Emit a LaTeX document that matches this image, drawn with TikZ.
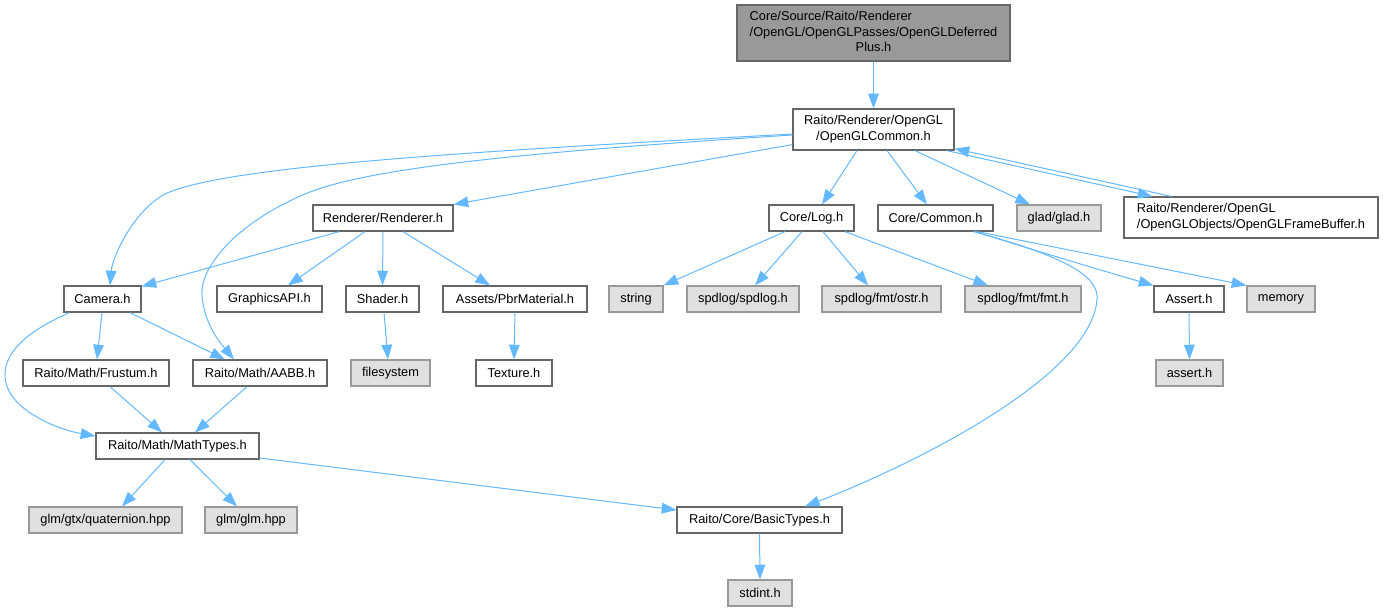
\documentclass[tikz,border=0pt]{standalone}
\usepackage{fontspec}
\setmainfont{Liberation Sans}
\usetikzlibrary{arrows.meta,calc}
\definecolor{edgec}{HTML}{63B8FF}
\definecolor{bordc}{HTML}{666666}
\definecolor{gbord}{HTML}{999999}
\definecolor{gfill}{HTML}{E0E0E0}
\definecolor{topfill}{HTML}{999999}
\tikzset{
  basebox/.style={draw, line width=0.9pt, inner sep=0pt, font=\fontsize{9.6}{11.3}\selectfont, align=center},
  wnode/.style={basebox, draw=bordc, fill=white},
  gnode/.style={basebox, draw=gbord, fill=gfill},
  topnode/.style={basebox, draw=bordc, fill=topfill},
  edge/.style={draw=edgec, line width=0.75pt, -{Triangle[length=11pt,width=8pt]}}
}
% style, name, x1, y1, x2, y2, text
\newcommand\bx[7]{\node[#1, minimum width={(#5-#3)*0.75pt}, minimum height={(#6-#4)*0.75pt}] (#2) at ({(#3+#5)/2},{(#4+#6)/2}) {#7};}
\begin{document}
\begin{tikzpicture}[x=0.75pt,y=-0.75pt]
\useasboundingbox (0,0) rectangle (1383,612);
% nodes
\bx{topnode}{top}{737}{5}{1010}{61}{\begin{tabular}{@{}l@{}}Core/Source/Raito/Renderer\\/OpenGL/OpenGLPasses/OpenGLDeferred\\\multicolumn{1}{@{}c@{}}{Plus.h}\end{tabular}}
\bx{wnode}{ogc}{793}{109}{954}{150}{\begin{tabular}{@{}l@{}}Raito/Renderer/OpenGL\\\multicolumn{1}{@{}c@{}}{/OpenGLCommon.h}\end{tabular}}
\bx{wnode}{rend}{313}{205}{453}{231}{Renderer/Renderer.h}
\bx{wnode}{log}{769}{205}{854}{231}{Core/Log.h}
\bx{wnode}{common}{878}{205}{993}{231}{Core/Common.h}
\bx{gnode}{glad}{1017}{205}{1101}{231}{glad/glad.h}
\bx{wnode}{fb}{1124}{197}{1378}{238}{\begin{tabular}{@{}l@{}}Raito/Renderer/OpenGL\\/OpenGLObjects/OpenGLFrameBuffer.h\end{tabular}}
\bx{wnode}{camera}{64}{286}{141}{312}{Camera.h}
\bx{wnode}{gapi}{217}{286}{322}{312}{GraphicsAPI.h}
\bx{wnode}{shader}{346}{286}{419}{312}{Shader.h}
\bx{wnode}{pbr}{443}{286}{587}{312}{Assets/PbrMaterial.h}
\bx{gnode}{string}{609}{286}{663}{312}{string}
\bx{gnode}{spdlog}{687}{286}{799}{312}{spdlog/spdlog.h}
\bx{gnode}{ostr}{822}{286}{941}{312}{spdlog/fmt/ostr.h}
\bx{gnode}{fmt}{965}{286}{1081}{312}{spdlog/fmt/fmt.h}
\bx{wnode}{assert}{1154}{286}{1224}{312}{Assert.h}
\bx{gnode}{memory}{1247}{286}{1315}{312}{memory}
\bx{wnode}{frustum}{23}{360}{169}{386}{Raito/Math/Frustum.h}
\bx{wnode}{aabb}{193}{360}{327}{386}{Raito/Math/AABB.h}
\bx{gnode}{filesys}{351}{360}{430}{386}{filesystem}
\bx{wnode}{texture}{476}{360}{552}{386}{Texture.h}
\bx{gnode}{asserth}{1156}{360}{1223}{386}{assert.h}
\bx{wnode}{mtypes}{96}{433}{259}{459}{Raito/Math/MathTypes.h}
\bx{gnode}{quat}{29}{507}{182}{533}{glm/gtx/quaternion.hpp}
\bx{gnode}{glm}{205}{507}{297}{533}{glm/glm.hpp}
\bx{wnode}{basic}{677}{507}{842}{533}{Raito/Core/BasicTypes.h}
\bx{gnode}{stdint}{728}{580}{792}{606}{stdint.h}
% edges
\draw[edge] (top.south) -- (ogc.north);
\draw[edge] ($(ogc.west)+(0,4.5)$) .. controls (500,150) and (220,165) .. (163,195) .. controls (130,215) and (112,260) .. ($(camera.north)+(7.5,0)$);
\draw[edge] ($(ogc.west)+(0,5.5)$) .. controls (560,150) and (380,165) .. (310,192) .. controls (240,220) and (200,265) .. (202,295) .. controls (204,325) and (222,345) .. ($(aabb.north)+(-26,0)$);
\draw[edge] ($(ogc.south west)+(0,-6)$) -- (rend.north east);
\draw[edge] ($(ogc.south)+(-16.5,0)$) -- ($(log.north)+(10.5,0)$);
\draw[edge] ($(ogc.south)+(13.5,0)$) -- ($(common.north)+(-8.5,0)$);
\draw[edge] ($(ogc.south)+(41.5,0)$) -- ($(glad.north)+(-29,0)$);
\draw[edge] ($(ogc.south east)+(-8,0)$) -- ($(fb.north west)+(29,0)$);
\draw[edge] ($(fb.north west)+(48,0)$) -- ($(ogc.south east)+(0,-2)$);
\draw[edge] ($(rend.south west)+(27,0)$) -- ($(camera.north east)+(0,1)$);
\draw[edge] ($(rend.south)+(-18,0)$) -- ($(gapi.north)+(18.5,0)$);
\draw[edge] (rend.south) -- (shader.north);
\draw[edge] ($(rend.south)+(20,0)$) -- ($(pbr.north)+(-25,0)$);
\draw[edge] ($(log.south)+(-26.5,0)$) -- (string.north east);
\draw[edge] ($(log.south)+(-9.5,0)$) -- ($(spdlog.north)+(12,0)$);
\draw[edge] ($(log.south)+(11.5,0)$) -- ($(ostr.north)+(-13.5,0)$);
\draw[edge] ($(log.south)+(33.5,0)$) -- ($(fmt.north)+(-35,0)$);
\draw[edge] ($(common.south)+(39.5,0)$) .. controls (1040,252) and (1100,270) .. (assert.north west);
\draw[edge] ($(common.south)+(41.5,0)$) -- (memory.north west);
\draw[edge] ($(common.south)+(38,0)$) .. controls (1060,255) and (1100,275) .. (1097,300) .. controls (1090,380) and (900,470) .. ($(basic.north)+(45.5,0)$);
\draw[edge] (assert.south) -- (asserth.north);
\draw[edge] ($(shader.south)+(1.5,0)$) -- ($(filesys.north)+(-2.5,0)$);
\draw[edge] (pbr.south) -- (texture.north);
\draw[edge] ($(camera.south west)+(6,0)$) .. controls (30,330) and (5,350) .. (5,375) .. controls (5,410) and (60,430) .. ($(mtypes.west)+(0,-10)$);
\draw[edge] ($(camera.south)+(-0.5,0)$) -- ($(frustum.north)+(1,0)$);
\draw[edge] ($(camera.south)+(27.5,0)$) -- ($(aabb.north)+(-35,0)$);
\draw[edge] ($(frustum.south)+(14,0)$) -- ($(mtypes.north)+(-15.5,0)$);
\draw[edge] ($(aabb.south)+(-13,0)$) -- ($(mtypes.north)+(17.5,0)$);
\draw[edge] ($(mtypes.south)+(-12.5,0)$) -- ($(quat.north)+(16.5,0)$);
\draw[edge] ($(mtypes.south)+(12.5,0)$) -- ($(glm.north)+(-14,0)$);
\draw[edge] ($(mtypes.east)+(0,12)$) -- ($(basic.west)+(0,-10)$);
\draw[edge] (basic.south) -- (stdint.north);
\end{tikzpicture}
\end{document}
